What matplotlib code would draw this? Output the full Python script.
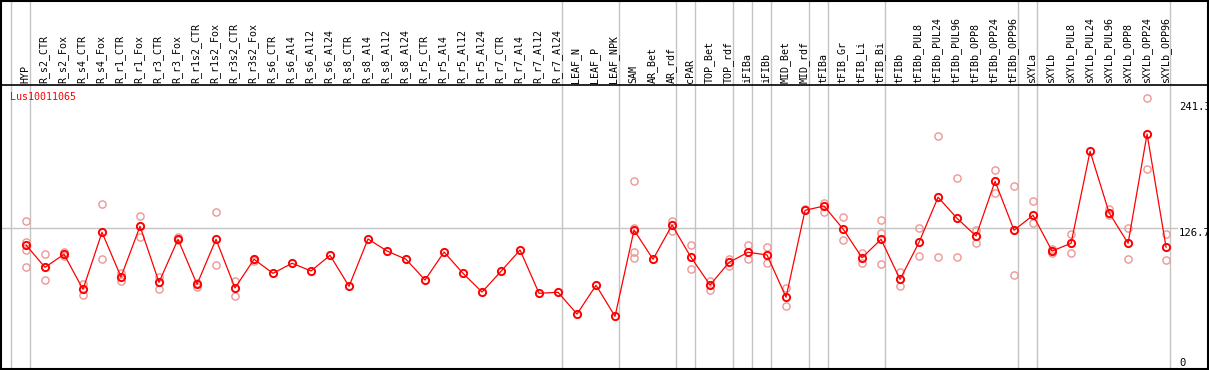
import numpy as np
import matplotlib
matplotlib.use('Agg')
import matplotlib.pyplot as plt
import matplotlib.transforms as mtransforms

plt.rcParams['font.family'] = ['DejaVu Sans Mono']

gene = 'Lus10011065'

samples = ['HYP', 'R_s2_CTR', 'R_s2_Fox', 'R_s4_CTR', 'R_s4_Fox', 'R_r1_CTR', 'R_r1_Fox',
           'R_r3_CTR', 'R_r3_Fox', 'R_r1s2_CTR', 'R_r1s2_Fox', 'R_r3s2_CTR', 'R_r3s2_Fox',
           'R_s6_CTR', 'R_s6_Al4', 'R_s6_Al12', 'R_s6_Al24', 'R_s8_CTR', 'R_s8_Al4',
           'R_s8_Al12', 'R_s8_Al24', 'R_r5_CTR', 'R_r5_Al4', 'R_r5_Al12', 'R_r5_Al24',
           'R_r7_CTR', 'R_r7_Al4', 'R_r7_Al12', 'R_r7_Al24', 'LEAF_N', 'LEAF_P', 'LEAF_NPK',
           'SAM', 'AR_Bet', 'AR_rdf', 'cPAR', 'TOP_Bet', 'TOP_rdf', 'iFIBa', 'iFIBb',
           'MID_Bet', 'MID_rdf', 'tFIBa', 'tFIB_Gr', 'tFIB_Li', 'tFIB_Bi', 'tFIBb',
           'tFIBb_PUL8', 'tFIBb_PUL24', 'tFIBb_PUL96', 'tFIBb_OPP8', 'tFIBb_OPP24',
           'tFIBb_OPP96', 'sXYLa', 'sXYLb', 'sXYLb_PUL8', 'sXYLb_PUL24', 'sXYLb_PUL96',
           'sXYLb_OPP8', 'sXYLb_OPP24', 'sXYLb_OPP96']

# mean expression per sample
mean_expr = [112.0, 92.3, 103.8, 72.9, 123.2, 83.8, 128.5, 79.1, 117.0, 77.3,
             117.0, 74.1, 99.4, 87.0, 95.9, 89.1, 102.9, 75.6, 117.3, 106.7,
             99.4, 81.1, 105.8, 87.0, 70.5, 88.8, 107.6, 69.4, 70.3, 51.1,
             76.5, 49.1, 125.2, 99.4, 129.6, 101.1, 76.7, 96.7, 105.6, 103.2,
             65.9, 142.6, 146.4, 126.1, 100.8, 117.0, 81.7, 114.4, 154.1, 135.5,
             119.9, 168.2, 125.0, 138.2, 106.7, 113.5, 194.6, 140.5, 113.5, 209.9,
             110.0]

# individual replicates (empty where only the mean is shown)
replicates = [[132.9, 114.6, 107.3, 92.3], [103.8, 80.9], [105.8, 102.3], [77.6, 68.2],
              [147.9, 99.4], [87.0, 80.5], [137.6, 118.8], [84.0, 73.5], [119.3, 116.4],
              [78.7, 75.2], [140.8, 94.1], [80.2, 67.3], [99.9, 98.1],
              [], [], [], [], [], [], [], [], [], [], [], [], [], [], [], [], [], [], [],
              [168.4, 127.2, 105.6, 100.5], [], [133.4, 124.6], [112.0, 90.6], [80.5, 72.3],
              [99.9, 93.7], [112.0, 99.4], [110.2, 95.9], [74.1, 58.2], [143.5],
              [149.3, 140.8], [136.7, 116.4], [104.7, 95.9], [134.0, 122.3, 95.2],
              [88.4, 75.6], [126.7, 102.0], [207.8, 101.1], [170.8, 101.1], [125.2, 113.5],
              [177.9, 157.6], [163.8, 85.3], [150.5, 131.1], [108.5, 104.7], [121.7, 105.2],
              [], [143.7, 138.4], [127.0, 99.4], [241.4, 178.7], [121.4, 98.5]]

# group boundaries: separator after these sample indices
separators = [-1, 0, 28, 31, 34, 35, 37, 38, 39, 41, 42, 45, 52, 53, 60]

y_labels = ['241.3', '126.7', '0']
ref_value = 126.7

W, H = 1209, 370
fig = plt.figure(figsize=(W / 100, H / 100), dpi=100)
ax = fig.add_axes([1 / W, 1.5 / H, 1206.5 / W, 368 / H])

x = np.arange(len(samples))
ax.set_xlim(-1.316, 62.18)
ax.set_ylim(3.09, 327.6)

grey = '#c4c4c4'
for s in separators:
    ax.axvline(s + 4 / 19, color=grey, lw=1.0, zorder=1)

# reference line ends before the value labels
ax.plot([-1.316, (1177 - 26) / 19], [ref_value, ref_value], color=grey, lw=1.0, zorder=1)

# header separator
header_y = (368.5 - 85) / 368
ax.plot([0, 1], [header_y, header_y], color='black', lw=1.2,
        transform=ax.transAxes, zorder=3, clip_on=False)

rx, ry = [], []
for i, reps in enumerate(replicates):
    for v in reps:
        rx.append(i)
        ry.append(v)
ax.plot(rx, ry, 'o', ls='none', ms=5.2, mfc='none', mec='#ee9696', mew=1.0, zorder=2)

ax.plot(x, mean_expr, '-', color='red', lw=0.9, zorder=4)
ax.plot(x, mean_expr, 'o', ls='none', ms=5.2, mfc='none', mec='red', mew=1.4, zorder=5)

trans = mtransforms.blended_transform_factory(ax.transData, ax.transAxes)
label_y = (368.5 - 83) / 368
for i, name in enumerate(samples):
    ax.text(i - 1 / 19, label_y, name, rotation=90, ha='center', va='bottom',
            fontsize=7.2, color='black', transform=trans)

ax.text(9 / 1206.5, (368.5 - 97) / 368, gene, color='red', fontsize=7.2,
        ha='left', va='center', transform=ax.transAxes)

lab_x = (1179 - 1) / 1206.5
for lab, py in zip(y_labels, [107.3, 232.7, 362.7]):
    ax.text(lab_x, (368.5 - py) / 368, lab, fontsize=7.6, ha='left', va='center',
            color='black', transform=ax.transAxes)

ax.set_xticks([])
ax.set_yticks([])
for sp in ax.spines.values():
    sp.set_linewidth(1.5)
    sp.set_color('black')

fig.savefig('out.png', dpi=100)
